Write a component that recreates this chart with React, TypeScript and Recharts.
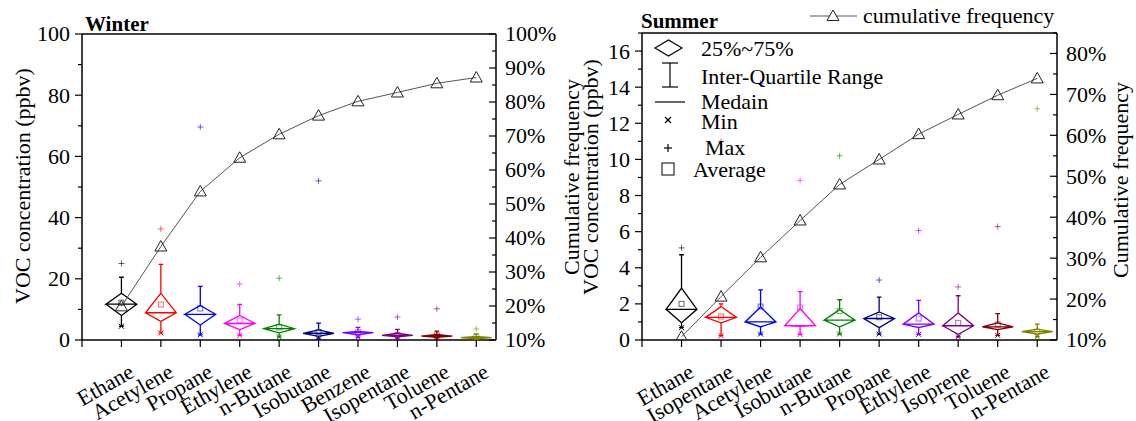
import { ComposedChart, XAxis, YAxis, Scatter, ReferenceLine } from 'recharts';

const FONT = "'Liberation Serif', 'DejaVu Serif', serif";

// colours by position (same order in both panels)
const colors = ['#000000', '#ff0000', '#0000ff', '#ff00ff', '#008000', '#000080', '#8000ff', '#800080', '#800000', '#808000'];

// Winter (ppbv)
const winterNames = ['Ethane', 'Acetylene', 'Propane', 'Ethylene', 'n-Butane', 'Isobutane', 'Benzene', 'Isopentane', 'Toluene', 'n-Pentane'];
const winterQ1 = [8.0, 6.1, 4.9, 3.4, 2.3, 1.2, 1.7, 1.0, 0.9, 0.4];
const winterMedian = [11.7, 8.9, 8.4, 5.4, 3.7, 2.2, 2.4, 1.5, 1.3, 0.8];
const winterQ3 = [15.3, 15.3, 11.3, 8.0, 5.2, 3.3, 2.8, 2.2, 1.8, 1.2];
const winterUpper = [20.5, 24.7, 17.5, 11.6, 8.2, 5.5, 4.1, 3.5, 2.9, 2.0];
const winterMin = [4.5, 2.3, 1.7, 1.5, 1.0, 0.4, 0.9, 0.4, 0.3, 0.2];
const winterMax = [25.0, 36.3, 69.6, 18.3, 20.2, 52.0, 6.8, 7.5, 10.2, 3.6];
const winterAvg = [12.2, 11.6, 10.3, 6.4, 4.1, 2.6, 2.5, 1.7, 1.5, 1.0];
const winterCum = [19.9, 37.5, 53.7, 63.6, 70.5, 76.0, 80.2, 82.8, 85.5, 87.2];

// Summer (ppbv)
const summerNames = ['Ethane', 'Isopentane', 'Acetylene', 'Isobutane', 'n-Butane', 'Propane', 'Ethylene', 'Isoprene', 'Toluene', 'n-Pentane'];
const summerQ1 = [0.95, 0.95, 0.73, 0.75, 0.73, 0.68, 0.69, 0.31, 0.58, 0.33];
const summerMedian = [1.7, 1.25, 1.0, 0.79, 1.1, 1.19, 0.88, 0.79, 0.73, 0.46];
const summerQ3 = [2.87, 1.85, 1.83, 1.74, 1.68, 1.55, 1.5, 1.5, 0.95, 0.6];
const summerUpper = [4.72, 2.0, 2.78, 2.68, 2.23, 2.37, 2.19, 2.45, 1.46, 0.88];
const summerMin = [0.68, 0.24, 0.33, 0.31, 0.33, 0.33, 0.31, 0.18, 0.26, 0.18];
const summerMax = [5.1, 11.0, 14.2, 8.84, 10.2, 3.32, 6.06, 2.94, 6.28, 12.8];
const summerAvg = [2.0, 1.3, 1.85, 1.8, 1.6, 1.26, 1.19, 0.95, 0.86, 0.46];
const summerCum = [10.8, 20.6, 30.2, 39.2, 48.0, 54.1, 60.3, 65.1, 69.8, 73.9];

const catTicks = [0, 1, 2, 3, 4, 5, 6, 7, 8, 9, 10];

const HALF = 0.39; // diamond half width (x units)
const CAP = 0.06;

// one polyline: upper whisker, diamond, lower whisker, median
function boxPoints(i: number, q1: number, med: number, q3: number, hi: number, lo: number) {
  return [
    { x: i - CAP, y: hi }, { x: i + CAP, y: hi }, { x: i, y: hi }, { x: i, y: q3 },
    { x: i - HALF, y: med }, { x: i, y: q1 }, { x: i, y: lo }, { x: i - CAP, y: lo }, { x: i + CAP, y: lo },
    { x: i, y: lo }, { x: i, y: q1 }, { x: i + HALF, y: med }, { x: i, y: q3 },
    { x: i - HALF, y: med }, { x: i + HALF, y: med },
  ];
}

const NoDot = () => <g />;

const MinMark = (p: any) => {
  const { cx, cy, payload } = p;
  const s = 2.5;
  return (
    <g stroke={payload.color} strokeWidth={1}>
      <line x1={cx - s} y1={cy - s} x2={cx + s} y2={cy + s} />
      <line x1={cx - s} y1={cy + s} x2={cx + s} y2={cy - s} />
    </g>
  );
};

const MaxMark = (p: any) => {
  const { cx, cy, payload } = p;
  const s = 3;
  return (
    <g stroke={payload.color} strokeOpacity={0.6} strokeWidth={1}>
      <line x1={cx - s} y1={cy} x2={cx + s} y2={cy} />
      <line x1={cx} y1={cy - s} x2={cx} y2={cy + s} />
    </g>
  );
};

const AvgMark = (p: any) => {
  const { cx, cy, payload } = p;
  return <rect x={cx - 2.5} y={cy - 2.5} width={5} height={5} fill="none" stroke={payload.color} strokeOpacity={0.6} strokeWidth={1} />;
};

const Triangle = (p: any) => {
  const { cx, cy } = p;
  return <path d={`M${cx - 6},${cy + 4.5}L${cx + 6},${cy + 4.5}L${cx},${cy - 6}Z`} fill="none" stroke="#222" strokeWidth={1} />;
};

const tstyle = { fontFamily: FONT, fontSize: 22 };

const YTick = (p: any) => {
  const { x, y, payload, side, major, inward, suffix } = p;
  const v = payload.value;
  const isMajor = Math.abs(v / major - Math.round(v / major)) < 1e-6;
  const len = isMajor ? 7 : 4;
  const out = side === 'left' ? -1 : 1;
  const d = inward ? -out : out;
  return (
    <g>
      <line x1={x} y1={y} x2={x + d * len} y2={y} stroke="#000" strokeWidth={1.2} />
      {isMajor && (
        <text x={side === 'left' ? x - 12 : x + 9} y={y} dy="0.34em" textAnchor={side === 'left' ? 'end' : 'start'}
          style={tstyle} fill="#000">{v}{suffix}</text>
      )}
    </g>
  );
};

const XTick = (p: any) => {
  const { x, y, payload, names } = p;
  const label = names[payload.value - 1];
  const ax = x + 14;
  const ay = y + 36;
  return (
    <g>
      <line x1={x} y1={y} x2={x} y2={y + 7} stroke="#000" strokeWidth={1.2} />
      {label && (
        <text x={ax} y={ay} textAnchor="end" transform={`rotate(-30 ${ax} ${ay})`} style={tstyle} fill="#000">{label}</text>
      )}
    </g>
  );
};

interface PanelProps {
  names: string[];
  q1: number[]; med: number[]; q3: number[]; upper: number[];
  min: number[]; max: number[]; avg: number[]; cum: number[];
  yMax: number; yStep: number; yMajor: number;
  rMax: number;
  leftW: number; rightW: number; top: number;
}

function Panel(props: PanelProps) {
  const { names, q1, med, q3, upper, min, max, avg, cum, yMax, yStep, yMajor, rMax, leftW, rightW, top } = props;
  const yTicks: number[] = [];
  for (let v = 0; v <= yMax + 1e-9; v += yStep) yTicks.push(v);
  const rTicks: number[] = [];
  for (let v = 10; v <= rMax + 1e-9; v += 5) rTicks.push(v);

  const marks = (vals: number[]) => vals.map((v, i) => ({ x: i + 1, y: v, color: colors[i] }));
  const cumData = cum.map((v, i) => ({ x: i + 1, y: v }));
  const axisLine = { stroke: '#000', strokeWidth: 1.5 };

  return (
    <ComposedChart width={568} height={421} margin={{ top, right: 0, bottom: 0, left: 0 }}>
      <XAxis type="number" dataKey="x" domain={[0, 10.5]} ticks={catTicks} interval={0} allowDataOverflow
        height={81} axisLine={axisLine} tickLine={false} tickSize={0} tickMargin={0}
        tick={(p: any) => <XTick {...p} names={names} />} />
      <YAxis yAxisId="left" type="number" dataKey="y" domain={[0, yMax]} ticks={yTicks} interval={0} allowDataOverflow
        width={leftW} axisLine={axisLine} tickLine={false} tickSize={0} tickMargin={0}
        tick={(p: any) => <YTick {...p} side="left" major={yMajor} suffix="" />} />
      <YAxis yAxisId="right" orientation="right" type="number" dataKey="y" domain={[10, rMax]} ticks={rTicks} interval={0} allowDataOverflow
        width={rightW} axisLine={axisLine} tickLine={false} tickSize={0} tickMargin={0}
        tick={(p: any) => <YTick {...p} side="right" major={10} inward suffix="%" />} />
      <ReferenceLine yAxisId="left" y={yMax} stroke="#000" strokeWidth={1.5} />
      {names.map((n, i) => (
        <Scatter key={n} yAxisId="left" data={boxPoints(i + 1, q1[i], med[i], q3[i], upper[i], min[i])}
          line={{ stroke: colors[i], strokeWidth: 1.3 }} shape={NoDot} isAnimationActive={false} />
      ))}
      <Scatter yAxisId="left" data={marks(min)} shape={MinMark} isAnimationActive={false} />
      <Scatter yAxisId="left" data={marks(max)} shape={MaxMark} isAnimationActive={false} />
      <Scatter yAxisId="left" data={marks(avg)} shape={AvgMark} isAnimationActive={false} />
      <Scatter yAxisId="right" data={cumData} line={{ stroke: '#555', strokeWidth: 1 }} shape={Triangle} isAnimationActive={false} />
    </ComposedChart>
  );
}

function Overlay() {
  const t = { style: tstyle, fill: '#000' };
  const b = { style: { fontFamily: FONT, fontSize: 21, fontWeight: 'bold' as const }, fill: '#000' };
  return (
    <svg width={1136} height={421} style={{ position: 'absolute', left: 0, top: 0, pointerEvents: 'none' }}>
      <text x={85} y={31} {...b}>Winter</text>
      <text x={641} y={28} {...b}>Summer</text>
      <text transform="translate(30 186) rotate(-90)" textAnchor="middle" {...t}>VOC concentration (ppbv)</text>
      <text transform="translate(579 177) rotate(-90)" textAnchor="middle" {...t}>Cumulative frequency</text>
      <text transform="translate(598 177) rotate(-90)" textAnchor="middle" {...t}>VOC concentration (ppbv)</text>
      <text transform="translate(1128 180) rotate(-90)" textAnchor="middle" {...t}>Cumulative frequency</text>

      {/* cumulative frequency legend */}
      <line x1={810} y1={16} x2={857} y2={16} stroke="#555" strokeWidth={1} />
      <path d="M827,20.5L839,20.5L833,10Z" fill="#fff" stroke="#222" strokeWidth={1} />
      <text x={863} y={23} {...t}>cumulative frequency</text>

      {/* box legend */}
      <path d="M655,48L668.5,40L682,48L668.5,56Z" fill="none" stroke="#000" strokeWidth={1.2} />
      <text x={701} y={56} {...t}>25%~75%</text>
      <g stroke="#000" strokeWidth={1.2}>
        <line x1={662} y1={63} x2={678} y2={63} />
        <line x1={670} y1={63} x2={670} y2={87} />
        <line x1={662} y1={87} x2={678} y2={87} />
        <line x1={655} y1={102} x2={685} y2={102} />
        <line x1={665} y1={117} x2={671} y2={123} />
        <line x1={665} y1={123} x2={671} y2={117} />
        <line x1={664} y1={148} x2={672} y2={148} />
        <line x1={668} y1={144} x2={668} y2={152} />
      </g>
      <rect x={662} y={163} width={12} height={12} fill="none" stroke="#000" strokeWidth={1} />
      <text x={701} y={84} {...t}>Inter-Quartile Range</text>
      <text x={701} y={109} {...t}>Medain</text>
      <text x={701} y={129} {...t}>Min</text>
      <text x={705} y={155} {...t}>Max</text>
      <text x={693} y={177} {...t}>Average</text>
    </svg>
  );
}

export default function App() {
  return (
    <div style={{ position: 'absolute', left: 0, top: 0, width: 1136, height: 421, background: '#fff', fontFamily: FONT }}>
      <div style={{ position: 'absolute', left: 0, top: 0 }}>
        <Panel names={winterNames} q1={winterQ1} med={winterMedian} q3={winterQ3} upper={winterUpper}
          min={winterMin} max={winterMax} avg={winterAvg} cum={winterCum}
          yMax={100} yStep={10} yMajor={20} rMax={100} leftW={82} rightW={72} top={34} />
      </div>
      <div style={{ position: 'absolute', left: 568, top: 0 }}>
        <Panel names={summerNames} q1={summerQ1} med={summerMedian} q3={summerQ3} upper={summerUpper}
          min={summerMin} max={summerMax} avg={summerAvg} cum={summerCum}
          yMax={17} yStep={1} yMajor={2} rMax={85} leftW={74} rightW={79} top={33} />
      </div>
      <Overlay />
    </div>
  );
}
